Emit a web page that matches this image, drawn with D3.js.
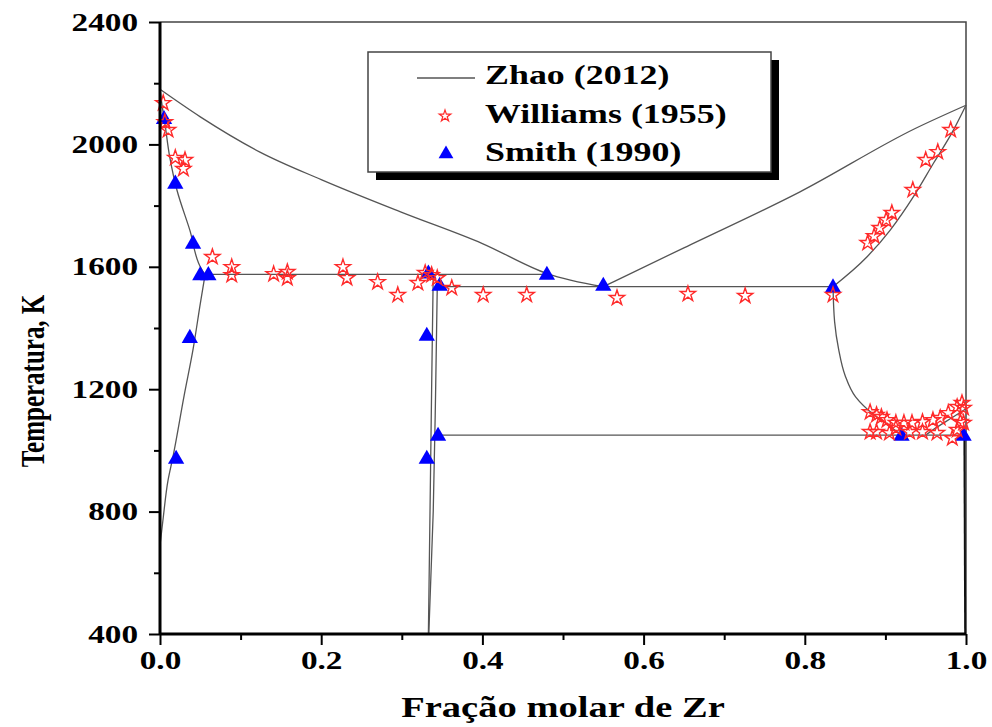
<!DOCTYPE html>
<html lang="pt">
<head>
<meta charset="UTF-8">
<title>Cr-Zr diagrama de fases</title>
<style>
  body { margin: 0; background: #fff; }
  svg { display: block; }
  text { font-family: 'Liberation Serif', 'Times New Roman', serif; font-weight: bold; fill: #000; }
  .phase { fill: none; stroke: #555; stroke-width: 1.3px; }
</style>
<script src="https://cdn.jsdelivr.net/npm/d3@7"></script>
</head>
<body>
<svg width="992" height="727"></svg>
<script>
  // Zhao (2012) calculated phase boundaries, [x_Zr, T(K)]
  const liquidusLeft = [[0,2180],[0.05,2090],[0.124,1975],[0.2,1885],[0.3,1778],[0.4,1676],[0.48,1578],[0.55,1535]];
  const liquidusRight = [[0.55,1535],[0.65,1662],[0.794,1845],[0.937,2052],[1,2128]];
  const solidusLeft = [[0.056,1575],[0.052,1590],[0.037,1720],[0.021,1851],[0.012,1960],[0.006,2070],[0.003,2120],[0,2180]];
  const solvusLeft = [[0.056,1575],[0.05,1480],[0.041,1330],[0.03,1180],[0.016,978],[0.01,903],[0.004,780],[0,690]];
  const solidusRight = [[0.835,1535],[0.877,1632],[0.906,1720],[0.935,1830],[0.96,1940],[0.983,2040],[1,2128]];
  const laves1 = [[0.339,1575],[0.337,1200],[0.335,800],[0.333,400]];
  const laves2 = [[0.344,1535],[0.342,1200],[0.339,800],[0.3335,400]];
  const eutectic1 = [[0.055,1575],[0.48,1575]];
  const eutectic2 = [[0.344,1535],[0.835,1535]];
  const eutectoid = [[0.344,1050],[1,1050]];
  const betaLeft = [[0.835,1535],[0.837,1420],[0.842,1330],[0.85,1245],[0.863,1175],[0.885,1118],[0.905,1080],[0.92,1050]];
  const betaRight = [[1,1136],[0.984,1109],[0.959,1067],[0.95,1050]];
  const alphaZr = [[0.998,1050],[0.999,400]];

  // Williams (1955)
  const williams = [
    [0.004,2135],[0.006,2073],[0.010,2047],[0.019,1956],[0.031,1949],[0.029,1920],
    [0.065,1632],[0.089,1599],[0.089,1573],[0.141,1576],[0.158,1583],[0.158,1563],
    [0.227,1599],[0.232,1563],[0.270,1550],[0.295,1508],[0.320,1547],[0.329,1580],
    [0.337,1573],[0.344,1563],[0.362,1531],[0.401,1508],[0.455,1508],[0.567,1498],
    [0.655,1511],[0.726,1505],[0.835,1508],
    [0.878,1678],[0.886,1700],[0.893,1727],[0.901,1753],[0.908,1776],[0.934,1851],
    [0.950,1949],[0.965,1975],[0.981,2047],
    [0.881,1125],[0.889,1116],[0.895,1109],[0.902,1099],[0.913,1090],[0.923,1090],
    [0.933,1090],[0.946,1093],[0.959,1099],[0.968,1106],[0.978,1122],[0.989,1142],
    [0.995,1155],[0.997,1139],
    [0.881,1060],[0.889,1060],[0.905,1057],[0.913,1073],[0.930,1060],[0.946,1060],
    [0.964,1057],[0.983,1040],[0.989,1067],[0.993,1093],[0.997,1090]
  ];

  // Smith (1990)
  const smith = [
    [0.005,2085],[0.019,1874],[0.041,1678],[0.050,1575],[0.060,1575],[0.037,1370],
    [0.020,975],[0.333,1580],[0.347,1540],[0.331,1377],[0.331,975],[0.345,1050],
    [0.480,1576],[0.550,1540],[0.835,1535],[0.920,1050],[0.997,1050]
  ];

  const legendLabels = ["Zhao (2012)", "Williams (1955)", "Smith (1990)"];
  const xTicks = [0, 0.2, 0.4, 0.6, 0.8, 1.0];
  const xMinor = [0.1, 0.3, 0.5, 0.7, 0.9];
  const yTicks = [400, 800, 1200, 1600, 2000, 2400];
  const yMinor = [600, 1000, 1400, 1800, 2200];

  const SX = 1.33; // the original figure is stretched horizontally
  const svg = d3.select("svg");
  const x = d3.scaleLinear().domain([0, 1]).range([160, 966]);
  const y = d3.scaleLinear().domain([400, 2400]).range([634, 22]);

  const lineX = d3.line().x(d => x(d[0])).y(d => y(d[1])).curve(d3.curveMonotoneX);
  const lineY = d3.line().x(d => x(d[0])).y(d => y(d[1])).curve(d3.curveMonotoneY);

  // frame (top and right)
  svg.append("path")
    .attr("d", `M${x(0)},${y(2400)}H${x(1)}V${y(400)}`)
    .attr("fill", "none").attr("stroke", "#444").attr("stroke-width", 1.5);

  // phase boundaries
  const g = svg.append("g");
  [liquidusLeft, liquidusRight, solidusRight, eutectic1, eutectic2, eutectoid, betaRight].forEach(d => {
    g.append("path").attr("class", "phase").attr("d", lineX(d));
  });
  [solidusLeft, solvusLeft, laves1, laves2, betaLeft].forEach(d => {
    g.append("path").attr("class", "phase").attr("d", lineY(d));
  });
  g.append("path").attr("d", lineY(alphaZr)).attr("fill", "none").attr("stroke", "#111").attr("stroke-width", 2);

  // Smith triangles
  svg.append("g").selectAll("path").data(smith).join("path")
    .attr("transform", d => `translate(${x(d[0])},${y(d[1]) + 1})`)
    .attr("d", d3.symbol(d3.symbolTriangle, 115))
    .attr("fill", "#0000ff");

  // Williams stars
  svg.append("g").selectAll("path").data(williams).join("path")
    .attr("transform", d => `translate(${x(d[0])},${y(d[1])})`)
    .attr("d", d3.symbol(d3.symbolStar, 72))
    .attr("fill", "none").attr("stroke", "#ff2a2a").attr("stroke-width", 1.4);

  // axes
  const xAxis = svg.append("g").attr("transform", `translate(0,${y(400)})`)
    .call(d3.axisBottom(x).tickValues(xTicks).tickSize(11).tickFormat(d3.format(".1f")));
  svg.append("g").attr("transform", `translate(0,${y(400)})`)
    .call(d3.axisBottom(x).tickValues(xMinor).tickSize(6).tickFormat(""))
    .select(".domain").remove();
  const yAxis = svg.append("g").attr("transform", `translate(${x(0)},0)`)
    .call(d3.axisLeft(y).tickValues(yTicks).tickSize(11).tickFormat(d3.format("d")));
  svg.append("g").attr("transform", `translate(${x(0)},0)`)
    .call(d3.axisLeft(y).tickValues(yMinor).tickSize(6).tickFormat(""))
    .select(".domain").remove();

  svg.selectAll(".tick line").attr("stroke", "#000").attr("stroke-width", 2);
  xAxis.select(".domain").attr("stroke", "#000").attr("stroke-width", 3).attr("d", `M${x(0)},0H${x(1)}`);
  yAxis.select(".domain").attr("stroke", "#000").attr("stroke-width", 3).attr("d", `M0,${y(400)}V${y(2400)}`);

  xAxis.selectAll("text")
    .attr("font-size", 25).attr("y", 0).attr("dy", null)
    .attr("transform", `translate(0,35) scale(${SX},1)`);
  yAxis.selectAll("text")
    .attr("font-size", 25).attr("x", 0)
    .attr("transform", `translate(-22,0) scale(${SX},1)`);
  svg.selectAll(".tick text").attr("font-family", "'Liberation Serif', serif").attr("font-weight", "bold");

  // axis titles
  svg.append("text")
    .attr("transform", `translate(563,717) scale(${SX},1)`)
    .attr("text-anchor", "middle").attr("font-size", 29)
    .text("Fração molar de Zr");
  svg.append("text")
    .attr("transform", `translate(44,381) rotate(-90) scale(1,${SX})`)
    .attr("text-anchor", "middle").attr("font-size", 25)
    .text("Temperatura, K");

  // legend
  const lg = svg.append("g");
  lg.append("rect").attr("x", 376).attr("y", 60).attr("width", 403).attr("height", 120).attr("fill", "#000");
  lg.append("rect").attr("x", 368).attr("y", 52).attr("width", 403).attr("height", 120)
    .attr("fill", "#fff").attr("stroke", "#444").attr("stroke-width", 1.5);
  lg.append("line").attr("x1", 417).attr("x2", 475).attr("y1", 78).attr("y2", 78)
    .attr("stroke", "#555").attr("stroke-width", 1.5);
  lg.append("path").attr("transform", "translate(445,116)")
    .attr("d", d3.symbol(d3.symbolStar, 42))
    .attr("fill", "none").attr("stroke", "#ff2a2a").attr("stroke-width", 1.2);
  lg.append("path").attr("transform", "translate(446,154)")
    .attr("d", d3.symbol(d3.symbolTriangle, 95)).attr("fill", "#0000ff");
  lg.selectAll("text.leg").data(legendLabels).join("text")
    .attr("class", "leg")
    .attr("transform", (d, i) => `translate(485,${84 + i * 38.5}) scale(${SX},1)`)
    .attr("font-size", 27)
    .text(d => d);
</script>
</body>
</html>
